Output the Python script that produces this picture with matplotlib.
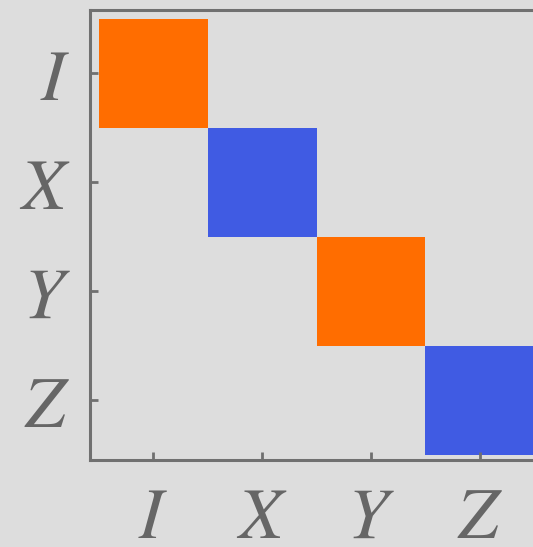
import numpy as np
import matplotlib.pyplot as plt
from matplotlib.colors import ListedColormap

labels = ["I", "X", "Y", "Z"]
# diagonal matrix: +1 orange, -1 blue, 0 empty
values = np.array([
    [1, 0, 0, 0],
    [0, -1, 0, 0],
    [0, 0, 1, 0],
    [0, 0, 0, -1],
])

bg = "#dddddd"
frame = "#707070"
cmap = ListedColormap(["#405be3", "#ff6d00"])

plt.rcParams["mathtext.fontset"] = "stix"

fig = plt.figure(figsize=(5.33, 5.47), dpi=100, facecolor=bg)
ax = fig.add_axes([90 / 533, 87 / 547, 453 / 533, 450 / 547])
ax.set_facecolor(bg)

masked = np.ma.masked_equal(values, 0)
ax.pcolormesh(np.arange(5) - 0.5, np.arange(5) - 0.5, masked, cmap=cmap,
              vmin=-1, vmax=1, edgecolor="none")

ax.set_xlim(-0.578, 3.578)
ax.set_ylim(3.55, -0.578)

ax.set_xticks(range(4))
ax.set_yticks(range(4))
ax.set_xticklabels([f"${l}$" for l in labels])
ax.set_yticklabels([f"${l}$" for l in labels])
ax.tick_params(direction="in", length=6, width=2, color=frame,
               labelsize=52, labelcolor="#666666")
ax.tick_params(axis="x", pad=17)
ax.tick_params(axis="y", pad=14)

for side in ["left", "top", "bottom"]:
    ax.spines[side].set_color(frame)
    ax.spines[side].set_linewidth(2.2)
ax.spines["right"].set_visible(False)

fig.savefig("out.png", dpi=100, facecolor=bg)
